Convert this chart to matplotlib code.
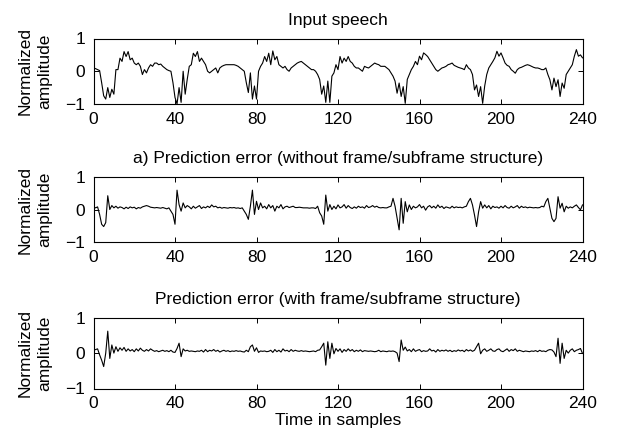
import numpy as np
import matplotlib
matplotlib.use("Agg")
import matplotlib.pyplot as plt

# ---------------- data ----------------
samples = list(range(241))

input_speech = [
    0.10, 0.08, 0.05, 0.02, -0.35, -0.75, -0.85, -0.50, -0.80, -0.55,
    -0.70, 0.05, 0.05, 0.40, 0.30, 0.60, 0.45, 0.60, 0.35, 0.40,
    0.25, 0.20, 0.25, 0.15, -0.10, 0.05, -0.05, 0.10, 0.20, 0.15,
    0.25, 0.25, 0.20, 0.22, 0.15, 0.10, 0.05, 0.02, 0.00, -0.35,
    -0.80, -1.00, -0.50, -0.95, 0.00, -0.70, -0.25, 0.15, 0.20, 0.55,
    0.45, 0.60, 0.30, 0.40, 0.30, 0.20, 0.00, -0.05, 0.00, 0.05,
    0.10, -0.05, 0.10, 0.15, 0.18, 0.20, 0.20, 0.20, 0.20, 0.20,
    0.18, 0.15, 0.10, 0.05, 0.00, -0.35, -0.65, -0.05, -0.85, -0.45,
    -0.85, 0.00, 0.15, 0.25, 0.45, 0.30, 0.55, 0.20, 0.62, 0.35,
    0.45, 0.20, 0.15, 0.10, 0.15, 0.05, 0.00, 0.10, 0.15, 0.20,
    0.25, 0.28, 0.30, 0.25, 0.20, 0.15, 0.10, 0.05, 0.05, 0.00,
    -0.10, -0.25, -0.70, -0.45, -0.95, -0.30, -0.95, -0.15, -0.05, 0.20,
    0.05, 0.45, 0.25, 0.40, 0.30, 0.45, 0.30, 0.25, 0.15, 0.10,
    0.10, 0.05, 0.00, 0.15, 0.12, 0.10, 0.15, 0.20, 0.25, 0.22,
    0.20, 0.15, 0.15, 0.15, 0.10, 0.05, -0.05, -0.15, -0.30, -0.67,
    -0.36, -0.77, -0.47, -0.98, -0.25, -0.10, 0.05, 0.15, 0.30, 0.20,
    0.46, 0.35, 0.56, 0.51, 0.45, 0.35, 0.25, 0.15, 0.05, 0.00,
    0.05, 0.10, 0.12, 0.15, 0.20, 0.22, 0.25, 0.18, 0.15, 0.12,
    0.10, 0.08, 0.05, 0.20, 0.10, 0.05, -0.10, -0.57, -0.42, -0.77,
    -0.47, -0.98, -0.45, -0.10, 0.10, 0.20, 0.30, 0.41, 0.61, 0.46,
    0.56, 0.41, 0.25, 0.18, 0.15, 0.05, 0.00, -0.06, 0.05, 0.10,
    0.12, 0.15, 0.18, 0.20, 0.18, 0.15, 0.12, 0.10, 0.10, 0.08,
    0.05, 0.05, 0.10, -0.10, -0.26, -0.57, -0.21, -0.47, -0.26, -0.77,
    -0.36, -0.52, -0.10, 0.00, 0.10, 0.20, 0.46, 0.66, 0.46, 0.50,
    0.41,
]

error_without = [
    0.08, 0.05, 0.08, -0.15, -0.45, -0.52, -0.40, 0.42, 0.00, 0.12,
    0.05, 0.10, 0.04, 0.08, 0.06, 0.02, 0.07, 0.03, 0.08, 0.05,
    0.07, 0.02, 0.06, 0.04, 0.08, 0.10, 0.12, 0.10, 0.07, 0.06,
    0.05, 0.06, 0.05, 0.04, 0.06, 0.04, 0.02, 0.05, -0.05, -0.15,
    -0.45, 0.59, 0.15, -0.05, 0.20, 0.05, 0.12, 0.08, 0.02, 0.10,
    0.04, 0.08, 0.12, 0.03, 0.08, 0.05, 0.10, 0.06, 0.14, 0.08,
    0.10, 0.05, 0.07, 0.04, 0.06, 0.05, 0.04, 0.06, 0.05, 0.06,
    0.04, 0.05, 0.03, 0.05, -0.05, -0.15, -0.30, 0.10, 0.59, -0.15,
    0.25, 0.00, 0.20, 0.05, 0.10, 0.02, 0.15, 0.05, 0.12, -0.05,
    0.10, 0.05, 0.15, 0.02, 0.08, 0.10, 0.06, 0.08, 0.10, 0.06,
    0.06, 0.07, 0.06, 0.05, 0.05, 0.05, 0.04, 0.05, 0.05, 0.03,
    0.10, -0.10, -0.20, -0.45, 0.44, -0.05, 0.15, 0.00, 0.10, 0.02,
    0.14, 0.05, 0.08, 0.15, 0.04, 0.12, 0.06, 0.03, 0.08, 0.04,
    0.10, 0.06, 0.08, 0.04, 0.12, 0.06, 0.08, 0.12, 0.07, 0.10,
    0.06, 0.05, 0.06, 0.05, 0.05, 0.08, 0.10, 0.34, 0.10, -0.27,
    -0.62, 0.34, -0.42, 0.24, -0.07, 0.14, 0.00, 0.10, 0.05, 0.08,
    0.15, 0.05, 0.10, -0.02, 0.08, 0.12, 0.05, 0.10, 0.04, 0.14,
    0.06, 0.10, 0.03, 0.08, 0.06, 0.04, 0.10, 0.05, 0.08, 0.06,
    0.07, 0.05, 0.08, 0.10, 0.24, 0.34, 0.14, -0.17, -0.52, -0.07,
    0.24, 0.04, 0.14, 0.05, 0.12, 0.02, 0.10, 0.06, 0.08, 0.04,
    0.10, 0.05, 0.12, 0.06, 0.04, 0.10, 0.05, 0.08, 0.12, 0.04,
    0.10, 0.06, 0.08, 0.05, 0.07, 0.06, 0.05, 0.06, 0.05, 0.06,
    0.10, 0.08, 0.24, 0.34, 0.04, -0.27, -0.37, -0.27, 0.39, 0.04,
    0.19, -0.07, 0.10, 0.04, 0.08, 0.05, 0.10, 0.14, 0.06, -0.01,
    0.14,
]

error_with = [
    0.08, 0.10, 0.12, -0.05, -0.20, -0.38, 0.00, 0.62, -0.15, 0.23,
    0.00, 0.18, 0.05, 0.15, 0.08, 0.16, 0.05, 0.12, 0.06, 0.10,
    0.04, 0.12, 0.06, 0.14, 0.08, 0.05, 0.10, 0.06, 0.12, 0.08,
    0.05, 0.07, 0.04, 0.06, 0.08, 0.05, 0.07, 0.04, 0.08, 0.03,
    0.02, 0.13, 0.28, -0.10, 0.12, 0.06, 0.08, 0.05, 0.06, 0.05,
    0.04, 0.06, 0.05, 0.08, 0.03, 0.10, 0.04, 0.08, 0.06, 0.10,
    0.05, 0.08, 0.03, 0.06, 0.08, 0.05, 0.07, 0.04, 0.06, 0.05,
    0.07, 0.05, 0.06, 0.04, 0.03, 0.08, 0.04, 0.18, 0.23, 0.05,
    0.15, 0.02, 0.06, 0.05, 0.06, 0.04, 0.05, 0.08, 0.02, 0.10,
    0.04, 0.08, 0.03, 0.12, 0.06, 0.08, 0.04, 0.10, 0.05, 0.08,
    0.06, 0.05, 0.07, 0.05, 0.06, 0.05, 0.04, 0.05, 0.06, 0.04,
    0.08, 0.09, 0.18, 0.28, -0.34, 0.32, -0.15, 0.28, -0.02, 0.13,
    0.05, 0.12, 0.02, 0.10, 0.05, 0.12, 0.06, 0.10, 0.04, 0.08,
    0.05, 0.09, 0.04, 0.07, 0.06, 0.05, 0.06, 0.05, 0.04, 0.05,
    0.08, 0.04, 0.06, 0.05, 0.04, 0.06, 0.05, 0.06, 0.04, 0.00,
    -0.24, 0.37, 0.08, 0.17, 0.06, 0.10, 0.04, 0.12, 0.05, 0.08,
    0.10, 0.04, 0.07, 0.05, 0.06, 0.12, 0.06, 0.08, 0.03, 0.10,
    0.05, 0.08, 0.06, 0.09, 0.05, 0.08, 0.04, 0.07, 0.05, 0.09,
    0.06, 0.08, 0.04, 0.10, 0.06, 0.09, 0.05, 0.08, 0.18, 0.28,
    -0.02, 0.08, 0.12, 0.05, 0.08, 0.12, 0.06, 0.05, 0.10, 0.12,
    0.06, 0.04, 0.08, 0.12, 0.05, 0.10, 0.07, 0.12, 0.05, 0.08,
    0.06, 0.04, 0.06, 0.05, 0.04, 0.06, 0.05, 0.07, 0.04, 0.08,
    0.05, 0.06, 0.04, 0.08, 0.10, 0.09, 0.03, -0.10, 0.42, -0.29,
    0.28, -0.15, 0.08, 0.00, 0.08, 0.12, 0.04, 0.08, 0.10, 0.13,
    -0.01,
]

titles = [
    "Input speech",
    "a) Prediction error (without frame/subframe structure)",
    "Prediction error (with frame/subframe structure)",
]
series = [input_speech, error_without, error_with]
x_ticks = [0, 40, 80, 120, 160, 200, 240]
y_ticks = [-1, 0, 1]
y_label = "Normalized\namplitude"
x_label = "Time in samples"

# ---------------- figure ----------------
plt.rcParams["font.family"] = ["Liberation Sans", "DejaVu Sans"]
FS = 12.5

W, H = 622, 443
fig = plt.figure(figsize=(W / 100, H / 100), dpi=100)

# axes boxes in pixel coords: (left, top, right, bottom)
boxes = [
    (93.5, 38.5, 582.5, 104.0),
    (93.5, 176.7, 582.5, 242.3),
    (93.5, 317.7, 582.5, 388.5),
]

for (l, t, r, b), title, ys in zip(boxes, titles, series):
    ax = fig.add_axes([l / W, 1 - b / H, (r - l) / W, (b - t) / H])
    ax.plot(samples, ys, color="black", linewidth=0.8)
    ax.set_xlim(0, 240)
    ax.set_ylim(-1, 1)
    ax.set_xticks(x_ticks)
    ax.set_yticks(y_ticks)
    ax.tick_params(direction="in", length=3.5, width=0.7, top=True, right=True,
                   labelsize=FS)
    ax.tick_params(axis="x", pad=5.5)
    ax.tick_params(axis="y", pad=6)
    for s in ax.spines.values():
        s.set_linewidth(0.8)
    ax.set_title(title, fontsize=FS, pad=10)
    ax.text(-0.12, 0.5, y_label, transform=ax.transAxes, rotation=90,
            ha="center", va="center", multialignment="center",
            fontsize=FS, linespacing=1.33)

ax.set_xlabel(x_label, fontsize=FS, labelpad=1)

fig.savefig("out.png", dpi=100, facecolor="white")
